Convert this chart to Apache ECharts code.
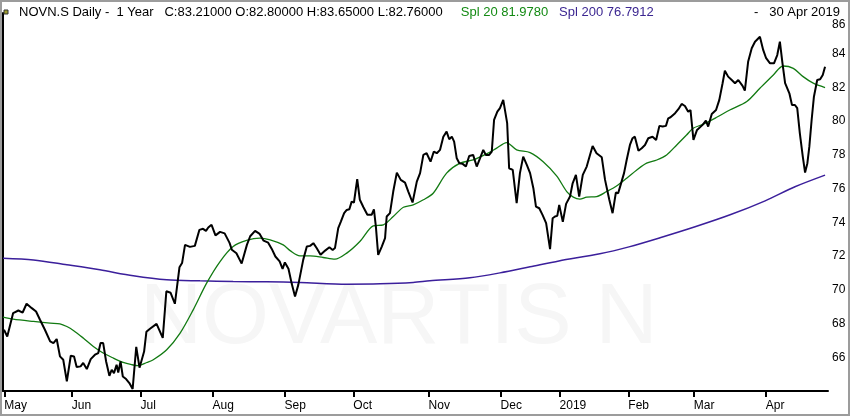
<!DOCTYPE html>
<html lang="en">
<head>
    <meta charset="UTF-8">
    <title>NOVN.S Daily</title>
    <script src="https://cdn.jsdelivr.net/npm/echarts@6/dist/echarts.min.js"></script>
    <style>
        html, body { margin: 0; padding: 0; background: #fff; }
        #main { width: 850px; height: 417px; }
    </style>
</head>
<body>
<div id="main"></div>
<script type="text/javascript">
    // trading-day index of each month start, and its label
    var monthTicks = [0.4, 21, 42, 64, 86, 107, 130, 152, 170, 191, 211, 233];
    var monthLabels = ['May', 'Jun', 'Jul', 'Aug', 'Sep', 'Oct', 'Nov', 'Dec', '2019', 'Feb', 'Mar', 'Apr'];

    // daily close, [trading day, price]
    var closePts = [
        [0.3,67.63],[1.3,67.23],[3.1,68.62],[4.7,68.77],[6.0,68.65],[7.2,69.17],[8.8,68.91],[10.1,68.71],[11.3,68.22],[12.8,67.63],
        [14.4,66.94],[15.4,66.84],[16.4,67.08],[17.4,66.05],[18.4,65.85],[19.5,64.57],[20.7,66.09],[21.7,66.05],[22.5,65.42],[23.7,65.46],
        [24.5,65.66],[25.6,65.30],[26.8,65.89],[28.1,66.15],[29.1,66.25],[29.8,66.84],[30.6,66.84],[31.5,65.75],[32.5,64.90],[33.2,65.26],
        [33.9,65.06],[34.7,65.56],[35.2,65.10],[35.9,65.75],[36.6,64.86],[37.6,64.71],[38.6,64.47],[39.6,64.12],[40.7,66.62],[41.7,65.38],
        [43.1,66.34],[43.8,67.51],[44.9,67.69],[46.9,67.98],[48.8,67.15],[49.9,69.91],[51.2,69.82],[52.5,69.17],[53.9,71.33],[54.7,71.58],
        [55.6,72.66],[57.1,72.54],[58.6,72.60],[60.0,73.55],[61.1,73.61],[62.0,73.49],[62.7,73.69],[63.7,73.85],[64.9,73.22],[66.3,73.43],
        [67.7,73.34],[69.2,72.78],[69.9,72.37],[71.3,72.16],[72.9,71.55],[74.5,72.66],[75.5,73.17],[77.0,73.49],[78.4,73.31],[79.6,72.91],
        [81.0,72.79],[82.1,72.42],[83.2,71.97],[84.5,71.68],[85.4,71.24],[86.1,71.62],[87.2,71.24],[88.2,70.35],[89.2,69.60],[90.2,70.29],
        [91.7,71.77],[92.8,72.56],[93.8,72.60],[94.8,72.76],[95.8,72.47],[97.0,72.07],[98.4,72.32],[99.7,72.52],[100.7,72.36],[101.4,72.47],
        [102.4,73.65],[103.2,74.04],[104.2,74.54],[105.0,74.73],[105.8,74.77],[106.5,75.22],[107.2,75.17],[108.2,76.55],[109.0,75.33],[110.1,74.89],
        [111.3,74.44],[112.6,74.44],[113.3,74.77],[113.9,73.74],[114.6,72.07],[115.7,72.56],[116.7,73.06],[117.2,74.34],[118.2,74.54],[119.2,75.82],
        [120.3,76.94],[121.5,76.51],[122.8,76.35],[123.8,75.82],[125.1,75.17],[126.4,76.41],[127.4,76.91],[128.4,77.99],[129.4,78.09],[130.6,77.59],
        [131.6,78.19],[132.5,78.09],[133.5,78.29],[134.5,79.07],[135.5,79.37],[136.3,78.92],[137.1,79.07],[137.8,78.78],[138.6,77.79],[139.4,77.50],
        [140.4,77.46],[141.4,77.30],[142.4,77.93],[143.6,77.99],[144.7,77.30],[145.7,77.79],[146.7,78.29],[147.5,77.99],[148.5,77.99],[149.3,78.19],
        [150.0,80.06],[151.0,80.55],[151.8,80.76],[152.8,81.25],[154.0,79.87],[154.6,77.20],[155.7,77.10],[156.9,75.13],[157.9,76.91],[158.9,77.89],
        [160.0,77.40],[161.0,76.91],[162.0,76.02],[162.8,74.93],[163.8,74.83],[164.8,74.44],[165.9,73.95],[167.1,72.41],[167.9,74.24],[168.6,74.34],
        [169.3,74.38],[169.9,75.03],[171.0,74.02],[172.0,75.09],[173.2,75.52],[174.0,76.31],[175.0,76.81],[176.0,75.52],[177.1,76.81],[178.3,77.30],
        [179.3,77.99],[180.1,78.52],[181.3,78.09],[182.9,77.85],[183.9,76.51],[185.2,75.33],[186.2,74.54],[187.2,75.76],[187.9,75.72],[188.5,76.11],
        [189.7,76.91],[190.5,77.69],[191.5,78.58],[192.3,78.98],[193.0,79.07],[194.1,78.24],[195.1,78.39],[196.1,78.58],[197.1,78.98],[198.4,79.07],
        [199.5,78.88],[200.5,79.71],[201.5,79.67],[202.5,79.71],[203.2,80.16],[203.9,80.22],[205.3,80.46],[206.3,80.70],[207.3,81.01],[208.3,80.89],
        [209.3,80.55],[210.0,80.65],[210.9,78.88],[212.0,79.47],[213.7,79.77],[214.7,80.02],[215.4,79.67],[216.5,80.42],[217.8,80.65],[218.8,81.25],
        [219.8,82.24],[220.5,82.98],[221.5,82.63],[222.6,82.43],[223.6,82.24],[224.6,82.43],[225.9,82.08],[226.6,81.80],[227.6,83.51],[228.7,84.31],
        [229.7,84.70],[231.2,84.99],[232.2,84.21],[233.1,83.72],[234.3,83.42],[235.5,83.42],[236.5,83.91],[237.3,84.70],[238.1,83.42],[238.9,82.24],
        [239.4,82.27],[240.2,81.64],[241.0,80.95],[241.9,80.95],[242.6,80.76],[243.4,79.27],[244.3,77.89],[245.0,76.94],[245.7,77.50],[246.3,78.48],
        [247.0,80.06],[247.7,81.44],[248.7,82.43],[249.6,82.47],[250.4,82.73],[251.1,83.21]
    ];

    // 20 day average
    var spl20Pts = [
        [0,68.38],[3.1,68.26],[9.3,68.12],[14.4,68.02],[17.4,67.98],[19.5,67.82],[21.5,67.59],[24.5,67.14],[27.6,66.64],[30.6,66.25],
        [33.7,65.95],[36.7,65.69],[39.3,65.56],[41.3,65.50],[43.9,65.69],[45.9,65.85],[50.0,66.44],[54.1,67.43],[58.1,68.81],[62.2,70.39],
        [66.3,71.67],[70.3,72.56],[74.4,72.92],[78.5,73.06],[81.6,72.96],[85.6,72.66],[87.7,72.32],[90.7,72.01],[93.8,72.01],[97.8,71.91],
        [101.4,71.81],[105.0,72.17],[109.0,72.86],[113.1,73.79],[116.2,73.85],[119.2,74.34],[122.3,74.89],[125.3,75.03],[128.4,75.33],[131.4,75.72],
        [135.5,76.91],[139.6,77.50],[143.6,77.69],[147.7,78.05],[150.8,78.39],[153.8,78.72],[156.9,78.29],[161.0,78.13],[165.0,77.59],[169.1,76.75],
        [172.2,75.82],[174.2,75.49],[176.2,75.37],[178.3,75.49],[181.3,75.52],[184.4,75.82],[187.4,76.15],[190.5,76.61],[193.6,77.10],[196.6,77.50],
        [199.7,77.69],[202.7,77.99],[205.8,78.58],[208.8,79.17],[210.8,79.57],[213.9,79.81],[218.0,80.22],[222.0,80.65],[227.2,81.15],[231.2,81.94],
        [235.3,82.73],[238.3,83.26],[241.4,83.12],[244.4,82.63],[247.5,82.24],[251.1,81.98]
    ];

    // 200 day average
    var spl200Pts = [
        [0,71.87],[9.3,71.77],[19.5,71.48],[29.6,71.18],[39.8,70.83],[50.0,70.59],[60.2,70.53],[70.3,70.49],[80.5,70.47],[90.7,70.43],
        [105.0,70.33],[115.2,70.35],[125.3,70.43],[130.4,70.53],[142.6,70.71],[151.8,71.00],[161.0,71.36],[169.8,71.71],[182.3,72.13],[191.2,72.54],
        [200.7,73.08],[211.4,73.73],[222.1,74.44],[232.8,75.27],[241.9,76.10],[251.1,76.79]
    ];

    var myChart = echarts.init(document.getElementById('main'), null, {renderer: 'canvas'});
    var baseFont = 'Liberation Sans, Arial, sans-serif';

    option = {
        animation: false,
        backgroundColor: '#fff',
        grid: {left: 3, right: 22, top: 13, bottom: 26},
        xAxis: {
            type: 'value',
            min: 0,
            max: 252,
            axisLine: {show: true, lineStyle: {color: '#000', width: 2}},
            axisTick: {show: true, customValues: monthTicks, length: 6, lineStyle: {color: '#000', width: 2}},
            axisLabel: {
                customValues: monthTicks,
                formatter: function (v) { return monthLabels[monthTicks.indexOf(v)]; },
                align: 'left',
                margin: 9,
                color: '#000',
                fontSize: 12,
                fontFamily: baseFont
            },
            splitLine: {show: false}
        },
        yAxis: {
            type: 'value',
            position: 'right',
            min: 64,
            max: 86.4,
            interval: 2,
            axisLine: {show: true, lineStyle: {color: '#000', width: 2}},
            axisTick: {show: false},
            splitLine: {show: false},
            axisLabel: {
                margin: 4,
                color: '#000',
                fontSize: 12,
                fontFamily: baseFont,
                formatter: function (v) {
                    if (v === 86) return '{t|86}';
                    if (v === 64 || v % 2 !== 0) return '';
                    return String(v);
                },
                rich: {t: {padding: [10, 0, 0, 0], fontSize: 12, fontFamily: baseFont, color: '#000'}}
            }
        },
        graphic: [
            {
                type: 'text', z: 0, silent: true,
                x: 140, y: 319,
                style: {
                    text: 'NOVARTIS N',
                    fill: '#f6f6f6',
                    font: 'lighter 86px Liberation Sans, Arial, sans-serif',
                    verticalAlign: 'middle'
                }
            },
            {
                type: 'rect', z: 100, silent: true,
                shape: {x: 1, y: 1, width: 848, height: 414},
                style: {fill: null, stroke: '#9c9c9c', lineWidth: 2}
            },
            {
                type: 'rect', z: 100, silent: true,
                shape: {x: 4, y: 10, width: 4, height: 4},
                style: {fill: '#9b9b2e', stroke: '#333', lineWidth: 1}
            },
            {
                type: 'text', z: 100, silent: true,
                x: 19, y: 12.5,
                style: {
                    text: 'NOVN.S Daily -  1 Year   C:83.21000 O:82.80000 H:83.65000 L:82.76000     {g|Spl 20 81.9780}   {p|Spl 200 76.7912}',
                    font: '13px Liberation Sans, Arial, sans-serif',
                    fill: '#000',
                    verticalAlign: 'middle',
                    rich: {
                        g: {fill: '#138a13', font: '13px Liberation Sans, Arial, sans-serif'},
                        p: {fill: '#3b2691', font: '13px Liberation Sans, Arial, sans-serif'}
                    }
                }
            },
            {
                type: 'text', z: 100, silent: true,
                x: 840, y: 12,
                style: {
                    text: '-   30 Apr 2019',
                    font: '13px Liberation Sans, Arial, sans-serif',
                    fill: '#000',
                    align: 'right',
                    verticalAlign: 'middle'
                }
            }
        ],
        series: [
            {
                name: 'Spl 200',
                type: 'line',
                data: spl200Pts,
                showSymbol: false,
                smooth: 0.3,
                z: 3,
                lineStyle: {color: '#3b1f9b', width: 1.5}
            },
            {
                name: 'Spl 20',
                type: 'line',
                data: spl20Pts,
                showSymbol: false,
                smooth: 0.3,
                z: 4,
                lineStyle: {color: '#127a12', width: 1.3}
            },
            {
                name: 'NOVN.S',
                type: 'line',
                data: closePts,
                showSymbol: false,
                z: 5,
                lineStyle: {color: '#000', width: 2}
            }
        ]
    };
    myChart.setOption(option);
</script>
</body>
</html>
